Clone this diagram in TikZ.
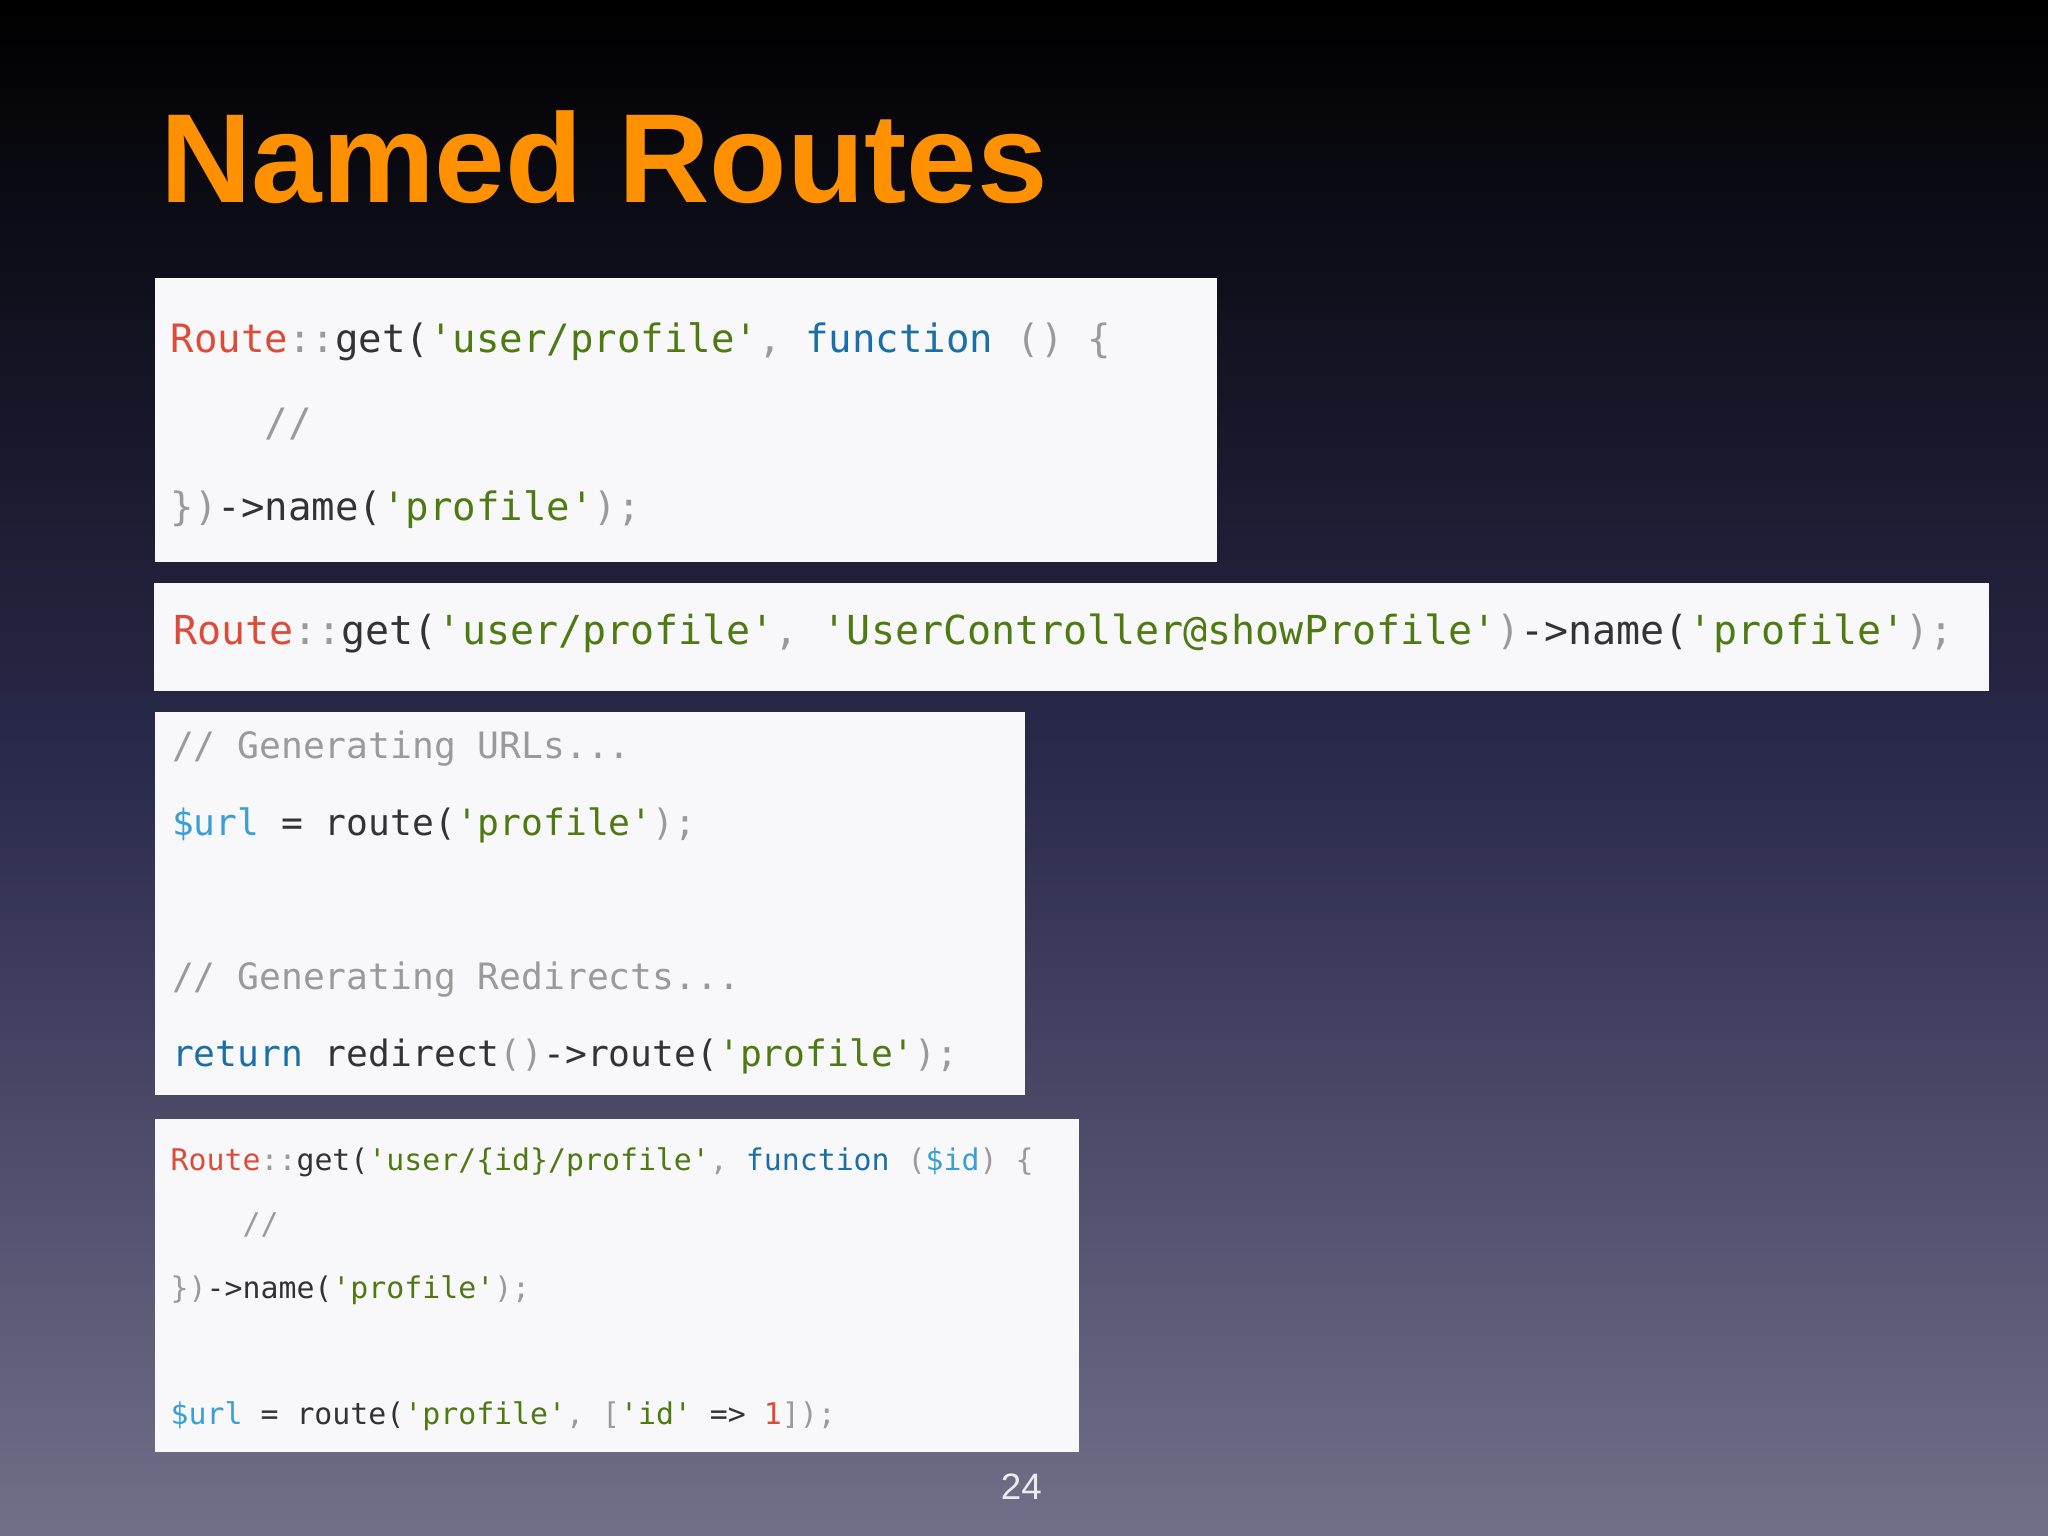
\documentclass[tikz,border=0pt]{standalone}
\usepackage{fontspec}
\setmainfont{Liberation Sans}
\newfontfamily\codefont{DejaVu Sans Mono}
\usepackage{xcolor}
\usetikzlibrary{positioning}

\definecolor{slidetop}{HTML}{000000}
\definecolor{slidemid}{HTML}{2A2A4C}
\definecolor{slidebot}{HTML}{726F8A}
\definecolor{titleorange}{HTML}{FF9100}
\definecolor{codebg}{HTML}{F8F8FA}
\definecolor{cred}{HTML}{DD4B39}
\definecolor{cgreen}{HTML}{4E7A12}
\definecolor{cblue}{HTML}{1A6FA8}
\definecolor{clight}{HTML}{3A9FD6}
\definecolor{cgray}{HTML}{9A9A9A}
\definecolor{ctext}{HTML}{333333}

\newcommand\cls[1]{\textcolor{cred}{#1}}
\newcommand\str[1]{\textcolor{cgreen}{#1}}
\newcommand\kw[1]{\textcolor{cblue}{#1}}
\newcommand\var[1]{\textcolor{clight}{#1}}
\newcommand\cmt[1]{\textcolor{cgray}{#1}}

\begin{document}
\begin{tikzpicture}[x=0.01cm,y=-0.01cm,
  codebox/.style={fill=codebg,draw=none},
  codeline/.style={anchor=west,inner sep=0pt,text=ctext}]

% background
\shade[top color=slidetop,bottom color=slidebot,middle color=slidemid]
  (0,0) rectangle (1568,1176);
\useasboundingbox (0,0) rectangle (1568,1176);

\node[anchor=base west,inner sep=0pt,text=titleorange,font=\fontsize{27.6}{30}\selectfont\bfseries]
  (title) at (122,155) {Named Routes};

% code boxes
\fill[codebox] (119,213) rectangle (932,430);
\fill[codebox] (118,446) rectangle (1523,529);
\fill[codebox] (119,545) rectangle (785,838);
\fill[codebox] (119,857) rectangle (826,1112);

% box 1
\begin{scope}[every node/.style={codeline,font=\codefont\fontsize{8.5}{10}\selectfont}]
\node (a1) at (130,262) {\cls{Route}\cmt{::}get(\str{'user/profile'}\cmt{,} \kw{function} \cmt{() \{}};
\node (a2) at (130,325) {\cmt{\ \ \ \ //}};
\node (a3) at (130,390) {\cmt{\})}->name(\str{'profile'}\cmt{);}};
\end{scope}
\node[codeline,font=\codefont\fontsize{8.7}{10}\selectfont] (b1) at (132,485) {\cls{Route}\cmt{::}get(\str{'user/profile'}\cmt{,} \str{'UserController@showProfile'}\cmt{)}->name(\str{'profile'}\cmt{);}};

% box 3
\begin{scope}[every node/.style={codeline,font=\codefont\fontsize{7.9}{10}\selectfont}]
\node (c1) at (131,573) {\cmt{// Generating URLs...}};
\node (c2) at (131,632) {\var{\$url} = route(\str{'profile'}\cmt{);}};
\node (c3) at (131,750) {\cmt{// Generating Redirects...}};
\node (c4) at (131,809) {\kw{return} redirect\cmt{()}->route(\str{'profile'}\cmt{);}};
\end{scope}

% box 4
\begin{scope}[every node/.style={codeline,font=\codefont\fontsize{6.5}{8}\selectfont}]
\node (d1) at (130,890) {\cls{Route}\cmt{::}get(\str{'user/\{id\}/profile'}\cmt{,} \kw{function} \cmt{(}\var{\$id}\cmt{) \{}};
\node (d2) at (130,938) {\cmt{\ \ \ \ //}};
\node (d3) at (130,988) {\cmt{\})}->name(\str{'profile'}\cmt{);}};
\node (d4) at (130,1084) {\var{\$url} = route(\str{'profile'}\cmt{, [}\str{'id'} => \cls{1}\cmt{]);}};
\end{scope}

\node[text=white!85!gray,font=\fontsize{8}{9}\selectfont] (page) at (782,1138) {24};
\end{tikzpicture}
\end{document}
